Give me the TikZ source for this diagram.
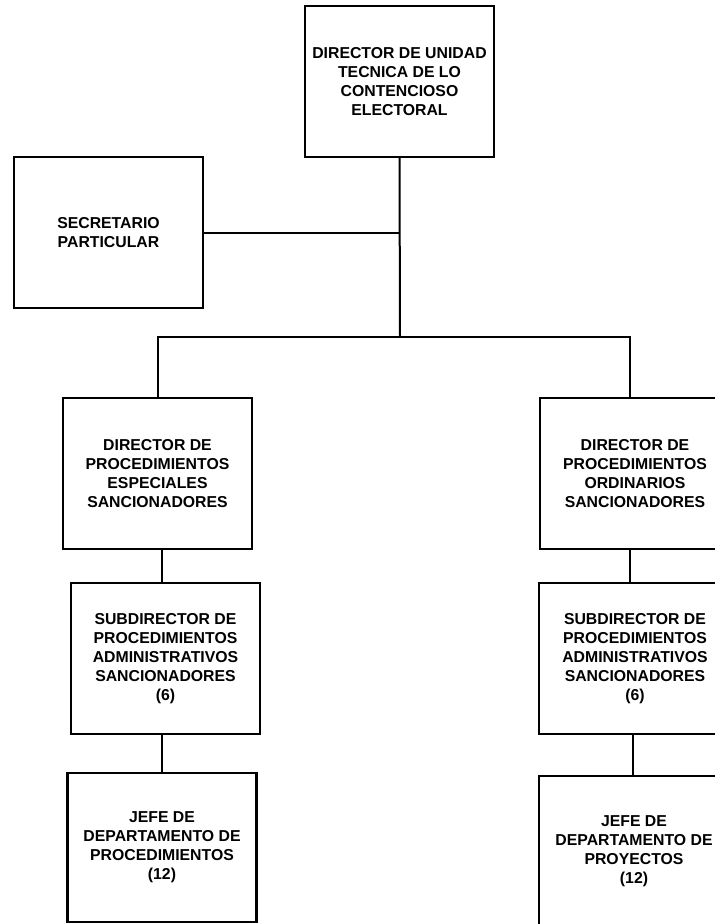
\documentclass[tikz,border=0pt]{standalone}
\usepackage{fontspec}
\setmainfont{Liberation Sans}
\begin{document}
\begin{tikzpicture}[x=1pt,y=-1pt,
  orgbox/.style={draw=black,line width=2.4pt,fill=white,rectangle,minimum width=189pt,minimum height=151pt,
    align=center,inner sep=0pt,font=\bfseries\fontsize{15.8}{19}\selectfont},
  link/.style={draw=black,line width=2pt}]
\clip (0,0) rectangle (715,924);
\fill[white] (0,0) rectangle (715,924);
% nodes
\node[orgbox] (top) at (399.5,81.5) {DIRECTOR DE UNIDAD\\TECNICA DE LO\\CONTENCIOSO\\ELECTORAL};
\node[orgbox] (sec) at (108.5,232.5) {SECRETARIO\\PARTICULAR};
\node[orgbox] (dirL) at (157.5,473.5) {DIRECTOR DE\\PROCEDIMIENTOS\\ESPECIALES\\SANCIONADORES};
\node[orgbox] (subL) at (165.5,658.5) {SUBDIRECTOR DE\\PROCEDIMIENTOS\\ADMINISTRATIVOS\\SANCIONADORES\\(6)};
\node[orgbox,minimum height=149pt] (jefeL) at (162,847.5) {JEFE DE\\DEPARTAMENTO DE\\PROCEDIMIENTOS\\(12)};
\node[orgbox,minimum width=190pt] (dirR) at (635,473.5) {DIRECTOR DE\\PROCEDIMIENTOS\\ORDINARIOS\\SANCIONADORES};
\node[orgbox,minimum width=192pt] (subR) at (635,658.5) {SUBDIRECTOR DE\\PROCEDIMIENTOS\\ADMINISTRATIVOS\\SANCIONADORES\\(6)};
\node[orgbox,minimum width=190pt] (jefeR) at (634,851.5) {JEFE DE\\DEPARTAMENTO DE\\PROYECTOS\\(12)};
% connector points
\coordinate (bar) at (400,337);
\coordinate (rtop) at (630,398);
\coordinate (rmid) at (630,549);
\coordinate (rlow) at (633,734);
% connectors
\draw[link] (top.south) -- (bar);
\draw[link] (sec.east) -- (sec.east -| bar);
\draw[link] (dirL.north) |- (bar) -| (rtop);
\draw[link] (dirL.south -| jefeL) -- (subL.north -| jefeL);
\draw[link] (subL.south -| jefeL) -- (jefeL.north);
\draw[link] (rmid) -- (rmid |- subR.north);
\draw[link] (rlow) -- (rlow |- jefeR.north);
\end{tikzpicture}
\end{document}
